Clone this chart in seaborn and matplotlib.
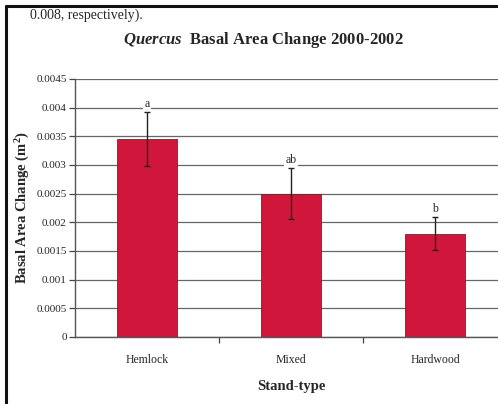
import matplotlib
matplotlib.use("Agg")
import matplotlib.pyplot as plt
import seaborn as sns
import pandas as pd
from matplotlib.lines import Line2D
from matplotlib.ticker import FixedLocator

stand_types = ["Hemlock", "Mixed", "Hardwood"]
basal_change = [0.00345, 0.00250, 0.00180]
std_err = [0.00047, 0.00044, 0.00029]
sig_letters = ["a", "ab", "b"]
y_ticks = [0, 0.0005, 0.001, 0.0015, 0.002, 0.0025, 0.003, 0.0035, 0.004, 0.0045]
y_tick_labels = ["0", "0.0005", "0.001", "0.0015", "0.002", "0.0025", "0.003", "0.0035", "0.004", "0.0045"]

df = pd.DataFrame({"Stand-type": stand_types, "Change": basal_change})

sns.set_style("white")
plt.rcParams["font.family"] = ["Liberation Serif", "DejaVu Serif"]
plt.rcParams["mathtext.fontset"] = "custom"
plt.rcParams["mathtext.rm"] = "Liberation Serif:bold"
plt.rcParams["mathtext.it"] = "Liberation Serif:italic:bold"
plt.rcParams["mathtext.bf"] = "Liberation Serif:bold"

fig = plt.figure(figsize=(4.98, 4.04), dpi=100)
ax = fig.add_axes([75/498, 67/404, 432/498, 258/404])

ax.yaxis.grid(True, color="#666666", linewidth=0.9)
ax.set_axisbelow(True)

sns.barplot(data=df, x="Stand-type", y="Change", color="#d0163a", saturation=1,
            width=0.41, edgecolor="#5a3030", linewidth=0.6, ax=ax)
xpos = list(range(len(stand_types)))
ax.errorbar(xpos, basal_change, yerr=std_err, fmt="none", ecolor="#222222",
            elinewidth=1.0, capsize=2.5, capthick=1.0, zorder=5)
for x, v, e, lab in zip(xpos, basal_change, std_err, sig_letters):
    ax.annotate(lab, (x, v + e), xytext=(0, 1.5), textcoords="offset points",
                ha="center", va="bottom", fontsize=8.5,
                bbox=dict(facecolor="white", edgecolor="none", pad=0.8), zorder=6)

ax.set_ylim(0, 0.0045)
ax.set_xlim(-0.5, 2.5)
ax.set_yticks(y_ticks)
ax.set_yticklabels(y_tick_labels)
ax.xaxis.set_minor_locator(FixedLocator([0.5, 1.5]))
ax.tick_params(axis="x", which="major", length=0, pad=12, labelsize=8.5)
ax.tick_params(axis="x", which="minor", length=4, width=0.9, direction="out", color="#444444")
ax.tick_params(axis="y", length=4, width=0.9, direction="out", color="#444444", labelsize=8, pad=2)
ax.yaxis.set_ticks_position("left")
ax.xaxis.set_ticks_position("bottom")
for s in ["top", "right"]:
    ax.spines[s].set_visible(False)
for s in ["left", "bottom"]:
    ax.spines[s].set_color("#555555")
    ax.spines[s].set_linewidth(1.0)

ax.set_xlabel("Stand-type", fontsize=10.5, fontweight="bold", labelpad=10)
ax.set_ylabel("Basal Area Change (m$^{2}$)", fontsize=10.5, fontweight="bold")
ax.yaxis.set_label_coords(-0.1, 0.5)

fig.text(263/498, 1 - 40/404, r"$\it{Quercus}$  Basal Area Change 2000-2002", ha="center", va="center",
         fontsize=12, fontweight="bold")
fig.text(30/498, 1 - 15/404, "0.008, respectively).", ha="left", va="center", fontsize=10)

fig.add_artist(Line2D([6/498, 6/498], [0, 1 - 6/404], color="#111111", linewidth=2.2, transform=fig.transFigure))
fig.add_artist(Line2D([6/498, 1], [1 - 6/404, 1 - 6/404], color="#111111", linewidth=2.2, transform=fig.transFigure))

fig.savefig("out.png", dpi=100)
